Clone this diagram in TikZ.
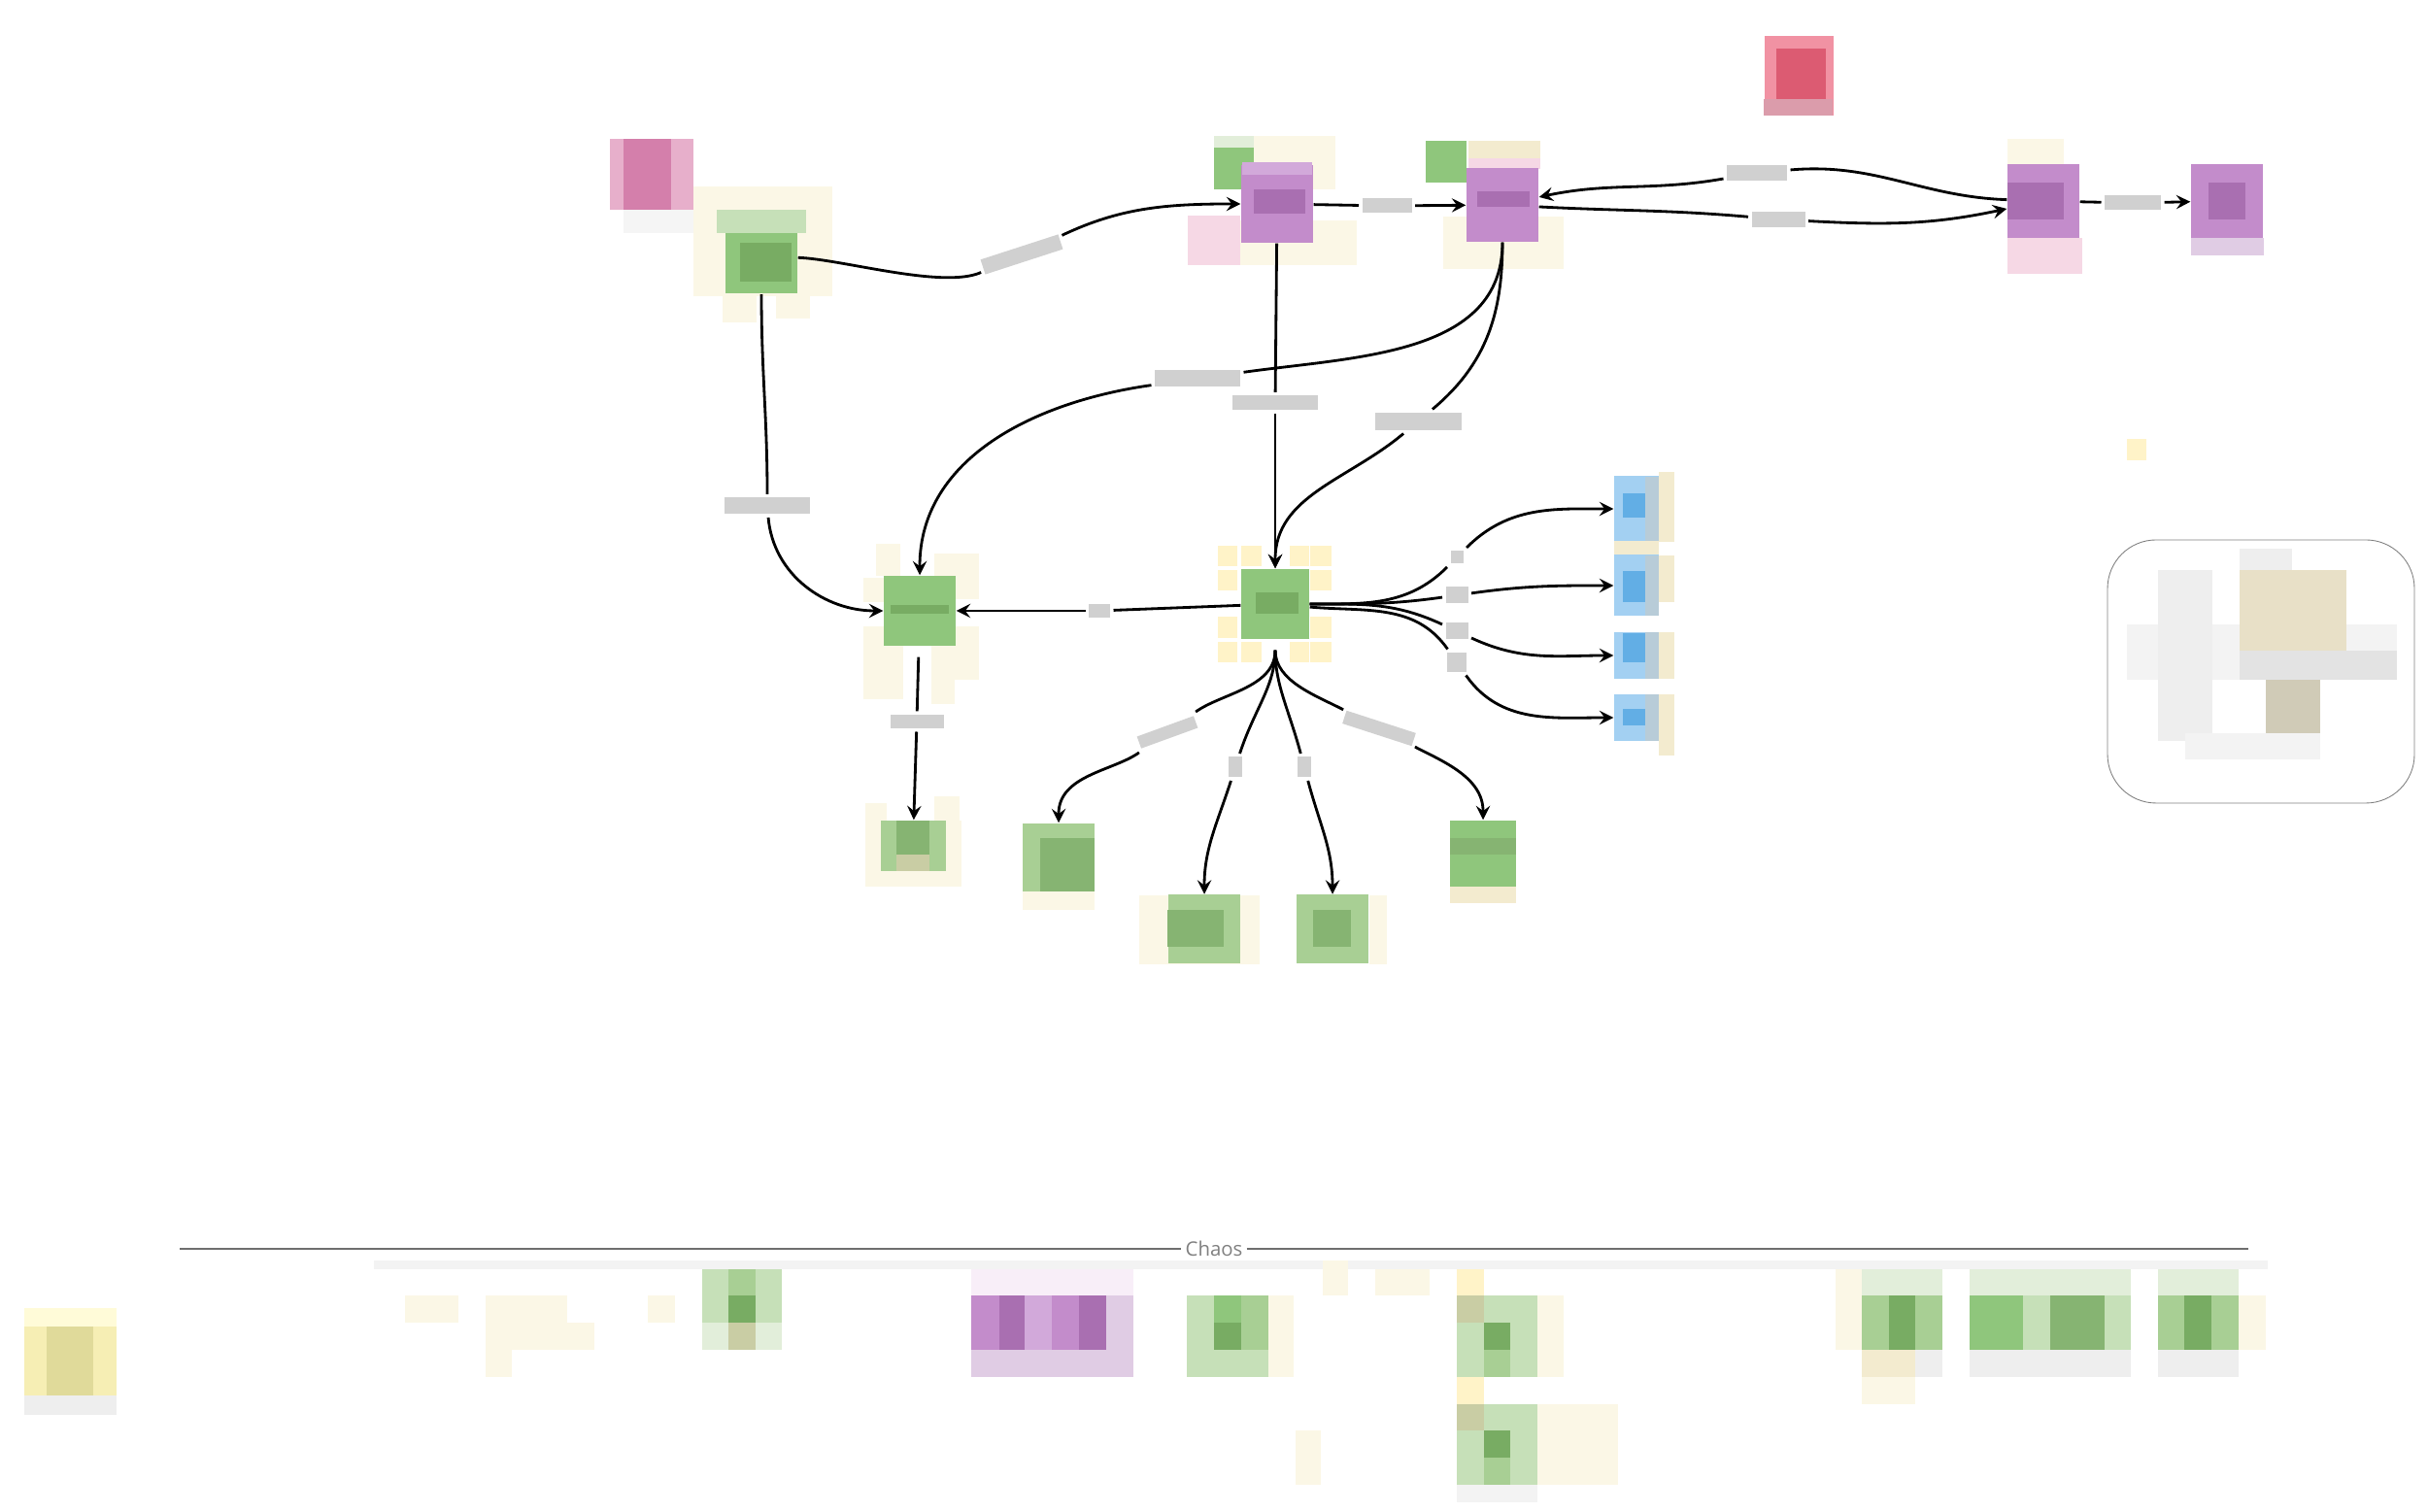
\documentclass[tikz,border=0pt]{standalone}
\usepackage{fontspec}
\setmainfont{Open Sans}
\definecolor{stickya}{HTML}{FBF7E6}
\definecolor{stickyb}{HTML}{FFF3C8}
\definecolor{stickyc}{HTML}{F3EBCF}
\definecolor{gnode}{HTML}{8FC67C}
\definecolor{gdark}{HTML}{78AC63}
\definecolor{gmid}{HTML}{A8CF94}
\definecolor{glight}{HTML}{C6E0B8}
\definecolor{gpale}{HTML}{E2EEDA}
\definecolor{gtan}{HTML}{C9CDA4}
\definecolor{pnode}{HTML}{C38CCB}
\definecolor{pdark}{HTML}{A96FB1}
\definecolor{pmid}{HTML}{D2A9DA}
\definecolor{plight}{HTML}{E0CCE4}
\definecolor{ppale}{HTML}{F8EEF8}
\definecolor{bnode}{HTML}{A3D0F2}
\definecolor{bdark}{HTML}{62AEE5}
\definecolor{bdim}{HTML}{B8CCD8}
\definecolor{redn}{HTML}{F192A3}
\definecolor{redd}{HTML}{DC5B72}
\definecolor{redl}{HTML}{DB9CAB}
\definecolor{pinkn}{HTML}{E7AFCB}
\definecolor{pinkd}{HTML}{D47FAB}
\definecolor{pinkl}{HTML}{F6D8E5}
\definecolor{labgrey}{HTML}{D0D0D0}
\definecolor{fog}{HTML}{EEEEEE}
\definecolor{rulegrey}{HTML}{6E6E6E}
\definecolor{notebody}{HTML}{F6EEB4}
\definecolor{notetop}{HTML}{FFFBD8}
\definecolor{notedark}{HTML}{E0DA9A}

\begin{document}
\begin{tikzpicture}[
  box/.style = {inner sep = 0, minimum width = 0.74cm, minimum height = 0.76cm},
  gbox/.style = {box, fill = gnode},
  pbox/.style = {box, fill = pnode},
  bbox/.style = {inner sep = 0, minimum width = 0.46cm, fill = bnode},
  lab/.style = {inner sep = 0, outer sep = 1pt, fill = labgrey},
  link/.style = {thick, black},
  arrow/.style = {link, -stealth}
]
\useasboundingbox (0, 0) rectangle (25, 15.57);

% halos behind the top row
\fill [stickya] (7.14, 13.65) rectangle (8.57, 12.52);
\fill [stickya] (7.44, 12.55) rectangle (7.79, 12.25);
\fill [stickya] (7.99, 12.52) rectangle (8.34, 12.29);
\fill [stickya] (12.91, 14.17) rectangle (13.75, 13.62);
\fill [gnode] (12.50, 14.05) rectangle (12.91, 13.62);
\fill [gpale] (12.50, 14.17) rectangle (12.91, 14.05);
\fill [pinkl] (12.23, 13.35) rectangle (12.77, 12.84);
\fill [stickya] (12.77, 13.30) rectangle (13.97, 12.84);
\fill [stickyc] (15.12, 14.12) rectangle (15.86, 13.94);
\fill [pinkl] (15.12, 13.94) rectangle (15.86, 13.83);
\fill [gnode] (14.68, 14.12) rectangle (15.10, 13.69);
\fill [stickya] (14.86, 13.34) rectangle (16.10, 12.80);
\fill [stickya] (20.67, 14.14) rectangle (21.25, 13.88);
\fill [pinkl] (20.67, 13.12) rectangle (21.44, 12.75);

% halos behind the middle row
\fill [stickya] (9.02, 9.97) rectangle (9.27, 9.64);
\fill [stickya] (9.62, 9.87) rectangle (10.08, 9.40);
\fill [stickya] (8.89, 9.62) rectangle (9.11, 9.37);
\fill [stickya] (8.89, 9.12) rectangle (9.30, 8.37);
\fill [stickya] (9.59, 9.12) rectangle (10.08, 8.57);
\fill [stickya] (9.59, 8.57) rectangle (9.83, 8.32);
\fill [stickyb] (12.54, 9.95) rectangle (12.74, 9.74);
\fill [stickyb] (12.78, 9.95) rectangle (12.99, 9.74);
\fill [stickyb] (13.28, 9.95) rectangle (13.48, 9.74);
\fill [stickyb] (13.49, 9.95) rectangle (13.71, 9.74);
\fill [stickyb] (12.54, 9.70) rectangle (12.74, 9.49);
\fill [stickyb] (13.49, 9.70) rectangle (13.71, 9.49);
\fill [stickyb] (12.54, 9.22) rectangle (12.74, 9.00);
\fill [stickyb] (13.49, 9.22) rectangle (13.71, 9.00);
\fill [stickyb] (12.54, 8.96) rectangle (12.74, 8.75);
\fill [stickyb] (12.78, 8.96) rectangle (12.99, 8.75);
\fill [stickyb] (13.28, 8.96) rectangle (13.48, 8.75);
\fill [stickyb] (13.49, 8.96) rectangle (13.71, 8.75);
\fill [stickyc] (17.08, 10.71) rectangle (17.24, 9.99);
\fill [stickyc] (16.62, 10.02) rectangle (17.08, 9.85);
\fill [stickyc] (17.08, 9.85) rectangle (17.24, 9.37);
\fill [stickyc] (17.08, 9.06) rectangle (17.24, 8.58);
\fill [stickyc] (17.08, 8.42) rectangle (17.24, 7.79);

% halos behind the lower row
\fill [stickya] (8.91, 7.12) rectangle (9.90, 6.44);
\fill [stickya] (8.91, 7.30) rectangle (9.13, 7.12);
\fill [stickya] (9.62, 7.37) rectangle (9.88, 7.12);
\fill [stickya] (11.73, 6.35) rectangle (12.97, 5.64);
\fill [stickya] (14.10, 6.35) rectangle (14.28, 5.64);

% nodes
\node [box, minimum width = 0.86cm, minimum height = 0.73cm, fill = pinkn] (pinknote) at (6.71, 13.77) {};
\node [gbox, minimum height = 0.77cm] (startnode) at (7.84, 12.93) {};
\node [pbox, minimum height = 0.80cm] (firstp) at (13.15, 13.47) {};
\node [pbox] (secondp) at (15.47, 13.46) {};
\node [pbox] (thirdp) at (21.04, 13.50) {};
\node [pbox] (lastp) at (22.93, 13.50) {};
\node [box, minimum width = 0.71cm, minimum height = 0.82cm, fill = redn] (rednote) at (18.52, 14.79) {};
\node [gbox, minimum height = 0.72cm] (leftg) at (9.47, 9.28) {};
\node [gbox, minimum width = 0.70cm, minimum height = 0.72cm] (hubg) at (13.13, 9.35) {};
\node [bbox, minimum height = 0.67cm] (bluea) at (16.85, 10.33) {};
\node [bbox, minimum height = 0.63cm] (blueb) at (16.85, 9.54) {};
\node [bbox, minimum height = 0.48cm] (bluec) at (16.85, 8.82) {};
\node [bbox, minimum height = 0.48cm] (blued) at (16.85, 8.18) {};
\node [box, minimum width = 0.67cm, minimum height = 0.52cm, fill = gmid] (lowa) at (9.40, 6.86) {};
\node [box, minimum height = 0.70cm, fill = gmid] (lowb) at (10.90, 6.74) {};
\node [box, minimum height = 0.71cm, fill = gmid] (lowc) at (12.40, 6.00) {};
\node [box, minimum height = 0.71cm, fill = gmid] (lowd) at (13.72, 6.00) {};
\node [gbox, minimum width = 0.68cm, minimum height = 0.68cm] (lowe) at (15.27, 6.78) {};
\node [inner sep = 0, minimum width = 0.20cm, minimum height = 0.22cm, fill = stickyb] (tinynote) at (22.00, 10.94) {};
\node [inner sep = 0, minimum width = 3.16cm, minimum height = 2.71cm, draw = gray, line width = 0.25pt, rounded corners = 0.5cm] (roundbox) at (23.28, 8.655) {};
\node [inner sep = 0, minimum width = 0.95cm, minimum height = 1.10cm, fill = notebody] (bignote) at (0.725, 1.55) {};

% darker middles
\fill [pinkd] (6.42, 14.14) rectangle (6.91, 13.41);
\fill [fog!60!white] (6.42, 13.41) rectangle (7.14, 13.17);
\fill [glight] (7.38, 13.41) rectangle (8.30, 13.17);
\fill [gdark] (7.62, 13.07) rectangle (8.15, 12.67);
\fill [pmid] (12.79, 13.90) rectangle (13.51, 13.77);
\fill [pdark] (12.91, 13.62) rectangle (13.44, 13.37);
\fill [pdark] (15.21, 13.60) rectangle (15.75, 13.44);
\fill [pdark] (20.67, 13.69) rectangle (21.25, 13.31);
\fill [pdark] (22.74, 13.69) rectangle (23.12, 13.31);
\fill [plight] (22.56, 13.12) rectangle (23.31, 12.94);
\fill [redd] (18.29, 15.07) rectangle (18.80, 14.55);
\fill [redl] (18.16, 14.55) rectangle (18.87, 14.38);
\fill [gdark] (9.17, 9.34) rectangle (9.77, 9.25);
\fill [gdark] (12.93, 9.47) rectangle (13.37, 9.25);
\fill [bdark] (16.71, 10.49) rectangle (16.94, 10.24);
\fill [bdark] (16.71, 9.69) rectangle (16.94, 9.37);
\fill [bdark] (16.71, 9.05) rectangle (16.94, 8.75);
\fill [bdark] (16.71, 8.27) rectangle (16.94, 8.10);
\fill [bdim] (16.94, 10.66) rectangle (17.08, 10.00);
\fill [bdim] (16.94, 9.85) rectangle (17.08, 9.23);
\fill [bdim] (16.94, 9.06) rectangle (17.08, 8.58);
\fill [bdim] (16.94, 8.42) rectangle (17.08, 7.94);
\fill [gdark!90!white] (9.23, 7.12) rectangle (9.57, 6.77);
\fill [gtan] (9.23, 6.77) rectangle (9.57, 6.60);
\fill [gdark!90!white] (10.71, 6.94) rectangle (11.27, 6.39);
\fill [stickya] (10.53, 6.39) rectangle (11.27, 6.20);
\fill [gdark!90!white] (12.02, 6.20) rectangle (12.60, 5.82);
\fill [gdark!90!white] (13.52, 6.20) rectangle (13.91, 5.82);
\fill [gdark!90!white] (14.93, 6.94) rectangle (15.61, 6.77);
\fill [stickyc] (14.93, 6.44) rectangle (15.61, 6.27);

% inside the rounded box
\fill [fog!70!white] (21.90, 9.14) rectangle (24.68, 8.57);
\fill [fog] (22.22, 9.70) rectangle (22.78, 7.94);
\fill [fog] (23.06, 9.92) rectangle (23.60, 9.70);
\fill [stickyc!90!gray] (23.06, 9.70) rectangle (24.16, 8.87);
\fill [fog!90!gray] (23.06, 8.87) rectangle (24.68, 8.57);
\fill [stickyc!70!gray] (23.33, 8.57) rectangle (23.89, 8.02);
\fill [fog!70!white] (22.50, 8.02) rectangle (23.89, 7.75);

% edge labels
\node [lab, minimum width = 0.84cm, minimum height = 0.16cm, rotate = 18] (labsf) at (10.52, 12.95) {};
\node [lab, minimum width = 0.51cm, minimum height = 0.15cm] (labfs) at (14.28, 13.45) {};
\node [lab, minimum width = 0.62cm, minimum height = 0.16cm] (labts) at (18.09, 13.79) {};
\node [lab, minimum width = 0.55cm, minimum height = 0.16cm] (labst) at (18.31, 13.31) {};
\node [lab, minimum width = 0.58cm, minimum height = 0.15cm] (labtl) at (21.96, 13.48) {};
\node [lab, minimum width = 0.88cm, minimum height = 0.17cm] (labsl) at (12.33, 11.67) {};
\node [lab, minimum width = 0.88cm, minimum height = 0.15cm] (labfh) at (13.13, 11.42) {};
\node [lab, minimum width = 0.89cm, minimum height = 0.18cm] (labsh) at (14.60, 11.23) {};
\node [lab, minimum width = 0.88cm, minimum height = 0.17cm] (labgl) at (7.90, 10.36) {};
\node [lab, minimum width = 0.22cm, minimum height = 0.14cm] (labhl) at (11.32, 9.28) {};
\node [lab, minimum width = 0.55cm, minimum height = 0.14cm] (lablo) at (9.44, 8.14) {};
\node [lab, minimum width = 0.62cm, minimum height = 0.13cm, rotate = 20] (labb) at (12.02, 8.03) {};
\node [lab, minimum width = 0.14cm, minimum height = 0.21cm] (labc) at (12.72, 7.67) {};
\node [lab, minimum width = 0.14cm, minimum height = 0.21cm] (labd) at (13.43, 7.67) {};
\node [lab, minimum width = 0.75cm, minimum height = 0.14cm, rotate = -18] (labe) at (14.20, 8.07) {};
\node [lab, minimum width = 0.13cm, minimum height = 0.13cm] (labba) at (15.00, 9.83) {};
\node [lab, minimum width = 0.23cm, minimum height = 0.17cm] (labbb) at (15.00, 9.44) {};
\node [lab, minimum width = 0.23cm, minimum height = 0.17cm] (labbc) at (15.00, 9.07) {};
\node [lab, minimum width = 0.20cm, minimum height = 0.20cm] (labbd) at (15.00, 8.75) {};

% connectors of the top row
\draw [link] (startnode) to [out = -2, in = 195, looseness = 0.6] (labsf);
\draw [arrow] (labsf) to [out = 20, in = 180] (firstp);
\draw [link] (firstp) -- (labfs);
\draw [arrow] (labfs) -- (secondp);
\draw [link] (thirdp) to [out = 178, in = 5] (labts);
\draw [arrow] (labts) to [out = 190, in = 12] (secondp);
\draw [link] (secondp) to [out = -3, in = 175] (labst);
\draw [arrow] (labst) to [out = -3, in = 192] (thirdp);
\draw [link] (thirdp) -- (labtl);
\draw [arrow] (labtl) -- (lastp);

% connectors going down
\draw [link] (startnode) to [out = -90, in = 90] (labgl);
\draw [arrow] (labgl) to [out = -85, in = 180] (leftg);
\draw [link] (secondp) to [out = -90, in = 8] (labsl);
\draw [arrow] (labsl) to [out = 188, in = 90] (leftg);
\draw [link] (firstp) -- (labfh);
\draw [arrow] (labfh) -- (hubg);
\draw [link] (secondp) to [out = -90, in = 40] (labsh);
\draw [arrow] (labsh) to [out = 220, in = 90] (hubg);
\draw [link] (hubg) -- (labhl);
\draw [arrow] (labhl) -- (leftg);
\draw [link, shorten < = 0.11cm] (leftg) -- (lablo);
\draw [arrow] (lablo) -- (lowa);

% fan to the right
\draw [link] (hubg) to [out = 0, in = 225] (labba);
\draw [arrow] (labba) to [out = 45, in = 180] (bluea);
\draw [link] (hubg) to [out = 0, in = 188] (labbb);
\draw [arrow] (labbb) to [out = 8, in = 180] (blueb);
\draw [link] (hubg) to [out = 0, in = 155] (labbc);
\draw [arrow] (labbc) to [out = -25, in = 180] (bluec);
\draw [link] (hubg) to [out = -5, in = 125] (labbd);
\draw [arrow] (labbd) to [out = -55, in = 180] (blued);

% fan to the bottom
\draw [link, shorten < = 0.11cm] (hubg) to [out = -90, in = 30] (labb);
\draw [arrow] (labb) to [out = 210, in = 90] (lowb);
\draw [link, shorten < = 0.11cm] (hubg) to [out = -90, in = 72] (labc);
\draw [arrow] (labc) to [out = 252, in = 90] (lowc);
\draw [link, shorten < = 0.11cm] (hubg) to [out = -90, in = 105] (labd);
\draw [arrow] (labd) to [out = -75, in = 90] (lowd);
\draw [link, shorten < = 0.11cm] (hubg) to [out = -90, in = 160] (labe);
\draw [arrow] (labe) to [out = -20, in = 90] (lowe);

% the Chaos rule
\node [text = gray, font = \fontsize{5.8pt}{7pt}\selectfont, inner sep = 1pt] (chaos) at (12.50, 2.71) {Chaos};
\coordinate (ruleleft) at (1.85, 2.71);
\coordinate (ruleright) at (23.15, 2.71);
\draw [rulegrey, thick] (ruleleft) -- (chaos) -- (ruleright);
\fill [fog!70!white] (3.85, 2.59) rectangle (23.35, 2.50);

% strip under the rule
\fill [notetop] (0.25, 2.10) rectangle (1.20, 1.91);
\fill [notedark] (0.48, 1.91) rectangle (0.96, 1.20);
\fill [fog] (0.25, 1.20) rectangle (1.20, 1.00);
\fill [stickya] (4.17, 2.23) rectangle (4.72, 1.95);
\fill [stickya] (5.00, 2.23) rectangle (5.84, 1.95);
\fill [stickya] (5.00, 1.95) rectangle (6.12, 1.67);
\fill [stickya] (5.00, 1.67) rectangle (5.27, 1.39);
\fill [stickya] (6.67, 2.23) rectangle (6.95, 1.95);
\fill [glight] (7.23, 2.50) rectangle (8.05, 2.23);
\fill [gmid] (7.50, 2.50) rectangle (7.78, 2.23);
\fill [glight] (7.23, 2.23) rectangle (8.05, 1.95);
\fill [gdark] (7.50, 2.23) rectangle (7.78, 1.95);
\fill [gpale] (7.23, 1.95) rectangle (8.05, 1.67);
\fill [gtan] (7.50, 1.95) rectangle (7.78, 1.67);
\fill [ppale] (10.00, 2.50) rectangle (11.67, 2.23);
\fill [pnode] (10.00, 2.23) rectangle (11.67, 1.67);
\fill [pdark] (10.29, 2.23) rectangle (10.55, 1.67);
\fill [pmid] (10.55, 2.23) rectangle (10.83, 1.67);
\fill [pdark] (11.11, 2.23) rectangle (11.39, 1.67);
\fill [plight] (11.39, 2.23) rectangle (11.67, 1.67);
\fill [plight] (10.00, 1.67) rectangle (11.67, 1.39);
\fill [glight] (12.22, 2.23) rectangle (12.50, 1.67);
\fill [gnode] (12.50, 2.23) rectangle (13.06, 1.67);
\fill [gdark] (12.50, 1.95) rectangle (12.78, 1.67);
\fill [gmid] (12.78, 2.23) rectangle (13.06, 1.67);
\fill [glight] (12.22, 1.67) rectangle (13.06, 1.39);
\fill [stickya] (13.06, 2.23) rectangle (13.32, 1.39);
\fill [stickya] (13.62, 2.59) rectangle (13.88, 2.23);
\fill [stickya] (14.16, 2.50) rectangle (14.72, 2.23);
\fill [stickyb] (15.00, 2.50) rectangle (15.28, 2.23);
\fill [glight] (15.00, 2.23) rectangle (15.83, 1.39);
\fill [gtan] (15.00, 2.23) rectangle (15.28, 1.95);
\fill [gdark] (15.28, 1.95) rectangle (15.55, 1.67);
\fill [gmid] (15.28, 1.67) rectangle (15.55, 1.39);
\fill [stickya] (15.83, 2.23) rectangle (16.10, 1.39);
\fill [stickyb] (15.00, 1.39) rectangle (15.28, 1.11);
\fill [glight] (15.00, 1.11) rectangle (15.83, 0.28);
\fill [gtan] (15.00, 1.11) rectangle (15.28, 0.84);
\fill [gdark] (15.28, 0.84) rectangle (15.55, 0.56);
\fill [gmid] (15.28, 0.56) rectangle (15.55, 0.28);
\fill [stickya] (15.83, 1.11) rectangle (16.66, 0.28);
\fill [fog!70!white] (15.00, 0.28) rectangle (15.83, 0.10);
\fill [stickya] (13.34, 0.84) rectangle (13.60, 0.28);
\fill [gpale] (19.17, 2.50) rectangle (20.00, 2.23);
\fill [gmid] (19.17, 2.23) rectangle (20.00, 1.67);
\fill [gdark] (19.45, 2.23) rectangle (19.72, 1.67);
\fill [stickyc] (19.17, 1.67) rectangle (19.72, 1.39);
\fill [fog] (19.72, 1.67) rectangle (20.00, 1.39);
\fill [stickya] (18.90, 2.50) rectangle (19.17, 1.67);
\fill [stickya] (19.17, 1.39) rectangle (19.72, 1.11);
\fill [gpale] (20.28, 2.50) rectangle (21.94, 2.23);
\fill [gnode] (20.28, 2.23) rectangle (20.83, 1.67);
\fill [glight] (20.83, 2.23) rectangle (21.11, 1.67);
\fill [gdark!90!white] (21.11, 2.23) rectangle (21.67, 1.67);
\fill [glight] (21.67, 2.23) rectangle (21.94, 1.67);
\fill [fog] (20.28, 1.67) rectangle (21.94, 1.39);
\fill [gpale] (22.22, 2.50) rectangle (23.05, 2.23);
\fill [gmid] (22.22, 2.23) rectangle (23.05, 1.67);
\fill [gdark] (22.49, 2.23) rectangle (22.77, 1.67);
\fill [fog] (22.22, 1.67) rectangle (23.05, 1.39);
\fill [stickya] (23.05, 2.23) rectangle (23.33, 1.67);
\end{tikzpicture}
\end{document}
